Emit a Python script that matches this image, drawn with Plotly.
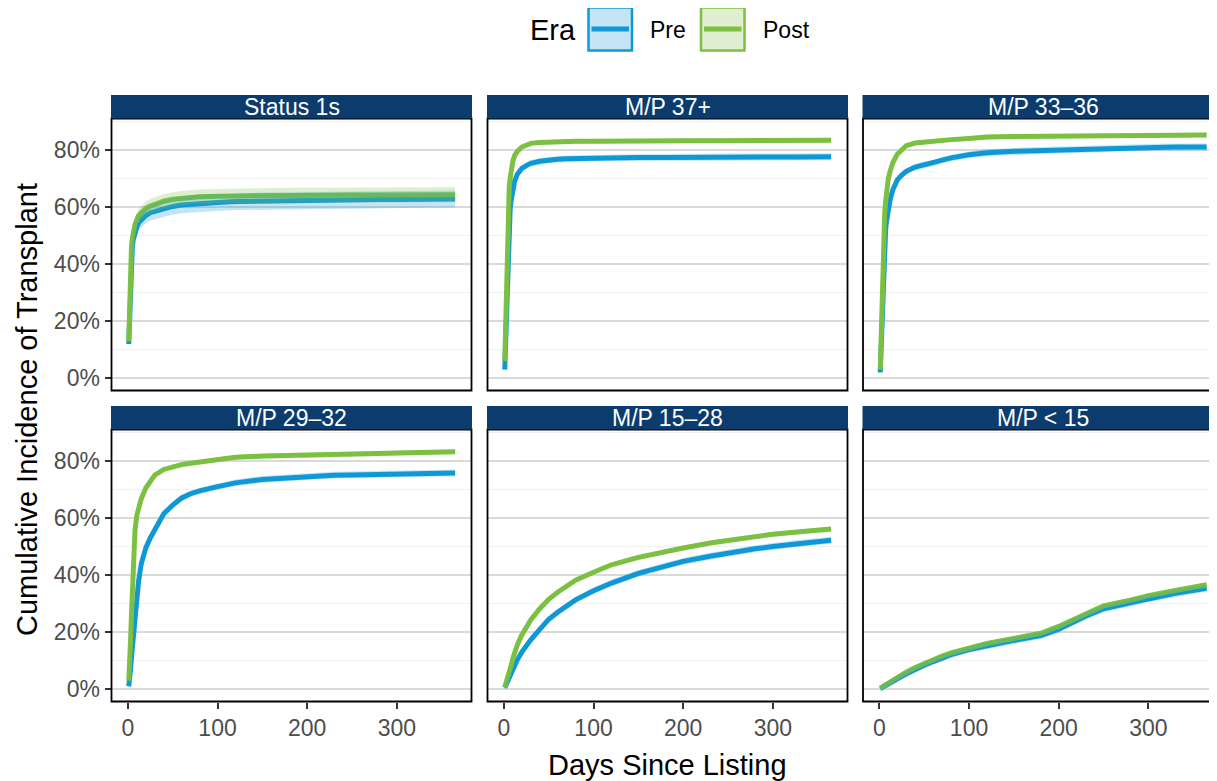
import plotly.graph_objects as go

# ---------------- data ----------------
panels = ["Status 1s", "M/P 37+", "M/P 33\u201336", "M/P 29\u201332", "M/P 15\u201328", "M/P < 15"]
eras = ["Pre", "Post"]

days = [1, 2, 3, 4, 5, 6, 7, 8, 10, 12, 15, 20, 25, 30, 40, 50, 60, 70, 80, 100,
        120, 150, 180, 200, 230, 250, 280, 300, 330, 365]

# cumulative incidence (%) per panel, Pre era
pre_status1s = [12, 25, 36, 42, 46, 48.5, 50, 51.5, 53, 54.5, 55.5, 57, 58, 58.5, 59.5, 60.2, 60.7, 61, 61.3, 61.6,
                61.9, 62.1, 62.2, 62.3, 62.4, 62.5, 62.6, 62.6, 62.7, 62.8]
pre_mp37 = [3, 12, 27, 40, 50, 55, 59, 62, 66, 69, 71.5, 73.5, 74.5, 75.3, 76, 76.5, 76.7, 76.9, 77, 77.1,
            77.2, 77.3, 77.3, 77.4, 77.4, 77.5, 77.5, 77.5, 77.5, 77.6]
pre_mp33 = [2, 10, 22, 35, 43, 48, 52, 55, 59, 62.5, 66, 69.5, 71.2, 72.5, 74, 74.8, 75.3, 76.5, 77.2, 78.3,
            79, 79.5, 79.8, 80, 80.3, 80.5, 80.8, 80.9, 81, 81]
pre_mp29 = [1, 3, 7, 11, 15, 19, 22, 26, 33, 38, 44, 49.5, 53, 56, 61.5, 64.5, 67, 68.5, 69.5, 71,
            72.3, 73.5, 74.2, 74.5, 75, 75.1, 75.3, 75.5, 75.6, 75.8]
pre_mp15 = [0.5, 1.2, 2, 2.7, 3.4, 4.2, 5, 5.7, 7.1, 8.5, 10.3, 13, 15.4, 17.3, 21, 24.5, 27, 29.3, 31.3, 34.5,
            37.2, 40.6, 43.2, 44.8, 46.6, 47.7, 49.2, 50, 51.2, 52.2]
pre_mplt15 = [0.2, 0.4, 0.6, 0.8, 1, 1.1, 1.3, 1.4, 1.8, 2.2, 2.7, 3.6, 4.5, 5.4, 7, 8.4, 9.7, 11, 12.1, 13.9,
              15.3, 17.1, 18.8, 21, 25.6, 28.2, 30.3, 31.8, 33.6, 35.4]

# cumulative incidence (%) per panel, Post era
post_status1s = [13, 28, 40, 46, 49, 51, 52.5, 54, 55.5, 57, 58, 59.5, 60.3, 61, 62, 62.7, 63.1, 63.4, 63.6, 63.8,
                 63.9, 64, 64.1, 64.1, 64.2, 64.2, 64.2, 64.3, 64.3, 64.3]
post_mp37 = [6, 20, 40, 55, 62, 67, 70, 72.5, 76, 78, 79.5, 81, 81.8, 82.3, 82.6, 82.8, 82.9, 83, 83, 83,
             83.1, 83.1, 83.1, 83.2, 83.2, 83.2, 83.3, 83.3, 83.3, 83.4]
post_mp33 = [3, 15, 32, 45, 52, 58, 62, 65, 70, 72.5, 75.5, 78.5, 80.2, 81.5, 82.4, 82.8, 83.1, 83.4, 83.6, 84,
             84.5, 84.7, 84.8, 84.9, 85, 85, 85.1, 85.1, 85.2, 85.2]
post_mp29 = [3, 8, 17, 26, 36, 45, 51, 56, 61, 64, 66.8, 70.5, 73, 75, 77, 78, 78.7, 79.2, 79.6, 80.6,
             81.3, 81.7, 81.9, 82, 82.1, 82.2, 82.4, 82.8, 83, 83.2]
post_mp15 = [0.7, 1.6, 2.6, 3.6, 4.7, 5.8, 7, 8.2, 10.8, 12.9, 15.5, 19, 21.8, 24.3, 28.2, 31.5, 34, 36, 38.2, 41,
             43.6, 46.2, 48.3, 49.5, 51.2, 52.1, 53.5, 54.3, 55.2, 56.1]
post_mplt15 = [0.4, 0.6, 0.8, 1, 1.2, 1.4, 1.5, 1.7, 2.1, 2.5, 3.1, 4.1, 5, 6, 7.6, 9, 10.3, 11.6, 12.7, 14.5,
               16, 17.8, 19.6, 22, 26.5, 29.2, 31.2, 32.8, 34.6, 36.6]

# confidence-band half widths (%)
ci_pre_status1s = [1.5, 2, 2.2, 2.3, 2.4, 2.5, 2.5, 2.5, 2.6, 2.6, 2.7, 2.7, 2.8, 2.8, 2.9, 2.9, 2.9, 3, 3, 3,
                   3, 3, 3, 3, 3, 3, 3, 3, 3, 3]
ci_post_status1s = [1.5, 2, 2, 2.1, 2.2, 2.2, 2.3, 2.3, 2.3, 2.4, 2.4, 2.4, 2.5, 2.5, 2.5, 2.5, 2.5, 2.5, 2.5, 2.5,
                    2.6, 2.6, 2.6, 2.6, 2.6, 2.6, 2.6, 2.6, 2.6, 2.6]
ci_pre_other = [0.8, 1, 1.1, 1.1, 1.1, 1.1, 1.1, 1.1, 1.1, 1.1, 1.1, 1.1, 1.1, 1.1, 1.1, 1.1, 1.1, 1.1, 1.1, 1.1,
                1.2, 1.2, 1.2, 1.2, 1.2, 1.2, 1.2, 1.2, 1.2, 1.2]
ci_post_other = [0.6, 0.7, 0.7, 0.7, 0.7, 0.7, 0.7, 0.7, 0.7, 0.7, 0.7, 0.7, 0.7, 0.7, 0.7, 0.7, 0.7, 0.7, 0.7, 0.7,
                 0.8, 0.8, 0.8, 0.8, 0.8, 0.8, 0.8, 0.8, 0.8, 0.8]

pre_series = [pre_status1s, pre_mp37, pre_mp33, pre_mp29, pre_mp15, pre_mplt15]
post_series = [post_status1s, post_mp37, post_mp33, post_mp29, post_mp15, post_mplt15]
pre_ci = [ci_pre_status1s, ci_pre_other, ci_pre_other, ci_pre_other, ci_pre_other, ci_pre_other]
post_ci = [ci_post_status1s, ci_post_other, ci_post_other, ci_post_other, ci_post_other, ci_post_other]

x_ticks = [0, 100, 200, 300]
y_ticks = [0, 0.2, 0.4, 0.6, 0.8]

# ---------------- style ----------------
PAGE_W, PAGE_H = 1217, 781
OFF = 8  # default page body margin
W, H = PAGE_W - OFF, PAGE_H - OFF
FONT = "Liberation Sans, Arial, Helvetica, sans-serif"
BLUE = "#0F99D6"
GREEN = "#7CC142"
BLUE_FILL = "rgba(15,153,214,0.25)"
GREEN_FILL = "rgba(124,193,66,0.25)"
STRIP = "#0B3C6D"


def px(x):
    return (x - OFF) / W


def py(y):
    return 1 - (y - OFF) / H


cols_px = [(111.5, 471.5), (487.5, 847.5), (863, 1223)]
rows_px = [(118.5, 390.5), (429.5, 701.5)]
strips_px = [(95, 118.5), (406, 429.5)]
PPD = 360 / 401.5  # pixels per day
X0 = -18.25
YR = [-0.043, 0.91]

fig = go.Figure()
layout = dict(
    width=W, height=H, margin=dict(l=0, r=0, t=0, b=0),
    paper_bgcolor="white", plot_bgcolor="white", showlegend=False,
    font=dict(family=FONT),
)
shapes = []
annotations = []

for k in range(6):
    r, c = divmod(k, 3)
    ax = k + 1
    xs = "x" if ax == 1 else f"x{ax}"
    ys = "y" if ax == 1 else f"y{ax}"
    x0p, x1p = cols_px[c]
    x1clip = min(x1p, PAGE_W)
    xmax = X0 + (x1clip - x0p) / PPD
    y0p, y1p = rows_px[r]

    xa = dict(domain=[px(x0p), px(x1clip)], range=[X0, xmax], anchor=ys,
              showgrid=False, zeroline=False, showline=False,
              tickvals=x_ticks, ticktext=[str(v) for v in x_ticks])
    if r == 1:
        xa.update(ticks="outside", ticklen=6, tickwidth=1.6, tickcolor="#333333",
                  showticklabels=True, tickfont=dict(size=23, color="#4D4D4D", family=FONT))
    else:
        xa.update(ticks="", showticklabels=False)

    ya = dict(domain=[py(y1p), py(y0p)], range=YR, anchor=xs,
              zeroline=False, showline=False,
              tickvals=y_ticks, tickformat=".0%",
              showgrid=True, gridcolor="#D9D9D9", gridwidth=1.8,
              minor=dict(tickmode="array", tickvals=[0.1, 0.3, 0.5, 0.7, 0.9],
                         showgrid=True, gridcolor="#F0F0F0", gridwidth=1.2, ticks=""))
    if c == 0:
        ya.update(ticks="outside", ticklen=6, tickwidth=1.6, tickcolor="#333333",
                  showticklabels=True, tickfont=dict(size=23, color="#4D4D4D", family=FONT))
    else:
        ya.update(ticks="", showticklabels=False)

    layout["xaxis" if ax == 1 else f"xaxis{ax}"] = xa
    layout["yaxis" if ax == 1 else f"yaxis{ax}"] = ya

    pre = [v / 100 for v in pre_series[k]]
    post = [v / 100 for v in post_series[k]]
    # lines
    for vals, col in ((pre, BLUE), (post, GREEN)):
        fig.add_trace(go.Scatter(x=days, y=vals, mode="lines", xaxis=xs, yaxis=ys,
                                 line=dict(color=col, width=5), hoverinfo="skip"))
    # ribbons
    for vals, ci, fillc in ((pre_series[k], pre_ci[k], BLUE_FILL), (post_series[k], post_ci[k], GREEN_FILL)):
        hi = [(v + e) / 100 for v, e in zip(vals, ci)]
        lo = [(v - e) / 100 for v, e in zip(vals, ci)]
        fig.add_trace(go.Scatter(x=days + days[::-1], y=hi + lo[::-1], mode="lines",
                                 fill="toself", fillcolor=fillc, line=dict(width=0),
                                 xaxis=xs, yaxis=ys, hoverinfo="skip"))

    # panel border
    shapes.append(dict(type="rect", xref="paper", yref="paper",
                       x0=px(x0p), x1=px(x1p), y0=py(y1p), y1=py(y0p),
                       line=dict(color="black", width=1.8), layer="above"))
    # strip
    s0, s1 = strips_px[r]
    shapes.append(dict(type="rect", xref="paper", yref="paper",
                       x0=px(x0p - 0.5), x1=px(x1p + 0.5), y0=py(s1), y1=py(s0),
                       fillcolor=STRIP, line=dict(width=0), layer="above"))
    annotations.append(dict(text=panels[k], xref="paper", yref="paper",
                            x=px((x0p + x1p) / 2), y=py((s0 + s1) / 2),
                            xanchor="center", yanchor="middle", showarrow=False,
                            font=dict(size=23, color="white", family=FONT)))

# axis titles
annotations.append(dict(text="Cumulative Incidence of Transplant", xref="paper", yref="paper",
                        x=px(27), y=py(410), textangle=-90, xanchor="center", yanchor="middle",
                        showarrow=False, font=dict(size=29, color="black", family=FONT)))
annotations.append(dict(text="Days Since Listing", xref="paper", yref="paper",
                        x=px(667), y=py(765), xanchor="center", yanchor="middle",
                        showarrow=False, font=dict(size=29, color="black", family=FONT)))

# legend (manual)
annotations.append(dict(text="Era", xref="paper", yref="paper", x=px(528), y=py(30),
                        xanchor="left", yanchor="middle", showarrow=False,
                        font=dict(size=29, color="black", family=FONT)))
for (bx, lx, lab, col, fillc) in ((588.5, 648, eras[0], BLUE, "#C3E5F5"),
                                  (701, 761, eras[1], GREEN, "#DFEFD0")):
    shapes.append(dict(type="rect", xref="paper", yref="paper",
                       x0=px(bx), x1=px(bx + 43.5), y0=py(50.5), y1=py(7.5),
                       fillcolor=fillc, line=dict(color=col, width=2.5)))
    shapes.append(dict(type="line", xref="paper", yref="paper",
                       x0=px(bx + 3), x1=px(bx + 40.5), y0=py(29), y1=py(29),
                       line=dict(color=col, width=5)))
    annotations.append(dict(text=lab, xref="paper", yref="paper", x=px(lx), y=py(30),
                            xanchor="left", yanchor="middle", showarrow=False,
                            font=dict(size=23, color="black", family=FONT)))

layout["shapes"] = shapes
layout["annotations"] = annotations
fig.update_layout(**layout)
fig.write_html("out.html")
